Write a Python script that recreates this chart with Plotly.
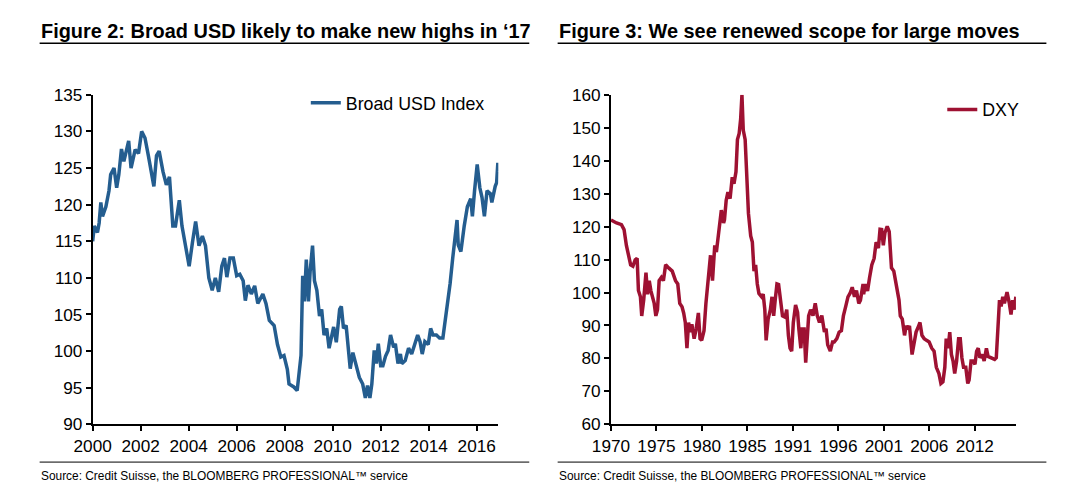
import plotly.graph_objects as go

W, H = 1068, 503

# ---------------- data ----------------
usd_years = [
    2000.00, 2000.07, 2000.20, 2000.27, 2000.34, 2000.41, 2000.55, 2000.68, 2000.75, 2000.89,
    2001.00, 2001.09, 2001.20, 2001.30, 2001.50, 2001.60, 2001.77, 2001.91, 2002.04, 2002.18,
    2002.32, 2002.45, 2002.55, 2002.66, 2002.77, 2002.93, 2003.07, 2003.20, 2003.34, 2003.45,
    2003.61, 2003.72, 2003.89, 2004.02, 2004.16, 2004.29, 2004.43, 2004.57, 2004.70, 2004.84,
    2004.98, 2005.11, 2005.25, 2005.38, 2005.49, 2005.59, 2005.72, 2005.86, 2006.00, 2006.13,
    2006.27, 2006.36, 2006.47, 2006.61, 2006.75, 2006.88, 2007.09, 2007.22, 2007.36, 2007.56,
    2007.70, 2007.84, 2007.97, 2008.11, 2008.18, 2008.38, 2008.52, 2008.59, 2008.68, 2008.75,
    2008.82, 2008.90, 2008.99, 2009.06, 2009.16, 2009.24, 2009.34, 2009.45, 2009.54, 2009.64,
    2009.75, 2009.85, 2009.95, 2010.04, 2010.15, 2010.29, 2010.36, 2010.45, 2010.56, 2010.63,
    2010.73, 2010.84, 2010.97, 2011.11, 2011.25, 2011.36, 2011.45, 2011.55, 2011.63, 2011.73,
    2011.82, 2011.90, 2012.00, 2012.09, 2012.20, 2012.31, 2012.41, 2012.54, 2012.61, 2012.72,
    2012.82, 2012.88, 2013.02, 2013.16, 2013.29, 2013.43, 2013.54, 2013.64, 2013.73, 2013.84,
    2013.98, 2014.08, 2014.18, 2014.32, 2014.45, 2014.59, 2014.68, 2014.79, 2014.89, 2015.00,
    2015.09, 2015.18, 2015.23, 2015.34, 2015.48, 2015.61, 2015.75, 2015.82, 2015.91, 2016.02,
    2016.13, 2016.22, 2016.32, 2016.43, 2016.57, 2016.63, 2016.77, 2016.83, 2016.88, 2016.92,
]
usd_values = [
    115.0, 117.1, 116.2, 117.5, 120.3, 118.4, 119.7, 121.9, 124.1, 125.0,
    122.3, 124.1, 127.6, 125.9, 128.7, 125.0, 127.5, 127.0, 130.0, 129.1,
    126.7, 124.5, 122.5, 126.7, 127.3, 124.5, 122.7, 123.8, 117.1, 117.1,
    120.6, 117.1, 113.8, 111.6, 114.9, 117.7, 114.4, 115.7, 114.4, 110.0,
    108.3, 110.0, 108.1, 111.6, 112.7, 110.1, 112.7, 112.7, 110.3, 110.5,
    109.6, 106.9, 109.0, 107.8, 108.9, 106.5, 107.8, 106.5, 104.2, 103.5,
    100.9, 99.2, 99.4, 97.5, 95.5, 95.1, 94.6, 96.4, 99.4, 110.3,
    106.8, 112.5, 106.8, 110.9, 114.4, 109.6, 108.3, 104.8, 105.7, 102.2,
    103.1, 100.4, 102.2, 103.3, 101.2, 105.7, 106.1, 103.1, 103.5, 101.3,
    97.6, 99.8, 98.0, 96.4, 95.5, 93.6, 95.3, 93.6, 95.5, 100.1,
    98.3, 101.0, 98.0, 98.0, 99.3, 100.1, 102.2, 100.5, 101.0, 98.3,
    99.6, 98.3, 98.7, 100.4, 99.6, 101.3, 102.2, 101.3, 99.6, 101.3,
    100.9, 103.1, 102.2, 102.2, 101.8, 101.8, 103.9, 106.3, 109.2, 112.7,
    115.3, 117.9, 114.5, 113.6, 117.1, 119.7, 120.8, 118.4, 121.9, 125.5,
    122.3, 121.0, 118.4, 121.9, 121.5, 120.3, 122.5, 123.0, 125.7, 124.5,
]

dxy_years = [
    1970.00, 1970.64, 1971.21, 1971.51, 1971.78, 1972.04, 1972.27, 1972.53, 1972.80, 1973.02,
    1973.17, 1973.40, 1973.55, 1973.78, 1974.04, 1974.23, 1974.42, 1974.61, 1974.99, 1975.18,
    1975.37, 1975.56, 1975.82, 1976.05, 1976.31, 1976.69, 1977.07, 1977.45, 1977.71, 1977.94,
    1978.20, 1978.39, 1978.58, 1978.77, 1978.96, 1979.15, 1979.34, 1979.60, 1979.83, 1980.09,
    1980.28, 1980.47, 1980.74, 1980.96, 1981.23, 1981.49, 1981.72, 1981.98, 1982.17, 1982.47,
    1982.74, 1983.00, 1983.10, 1983.30, 1983.50, 1983.75, 1984.00, 1984.20, 1984.43, 1984.60,
    1984.80, 1984.97, 1985.12, 1985.27, 1985.49, 1985.64, 1985.87, 1986.13, 1986.32, 1986.51,
    1986.70, 1986.89, 1987.08, 1987.38, 1987.57, 1987.76, 1987.91, 1988.14, 1988.40, 1988.59,
    1988.78, 1988.97, 1989.16, 1989.35, 1989.54, 1989.80, 1990.10, 1990.29, 1990.48, 1990.67,
    1990.86, 1991.05, 1991.31, 1991.54, 1991.69, 1991.92, 1992.07, 1992.30, 1992.48, 1992.67,
    1992.82, 1993.05, 1993.32, 1993.58, 1993.81, 1994.07, 1994.34, 1994.64, 1994.83, 1995.02,
    1995.32, 1995.58, 1995.77, 1996.07, 1996.34, 1996.60, 1996.83, 1997.10, 1997.36, 1997.59,
    1997.85, 1998.11, 1998.34, 1998.61, 1998.80, 1999.10, 1999.17, 1999.36, 1999.62, 1999.85,
    2000.11, 2000.38, 2000.61, 2000.87, 2001.06, 2001.25, 2001.44, 2001.63, 2001.89, 2002.12,
    2002.38, 2002.65, 2002.95, 2003.25, 2003.40, 2003.63, 2003.89, 2004.08, 2004.27, 2004.46,
    2004.76, 2005.03, 2005.22, 2005.52, 2005.67, 2005.90, 2006.16, 2006.43, 2006.73, 2007.03,
    2007.30, 2007.56, 2007.86, 2008.09, 2008.32, 2008.54, 2008.70, 2008.92, 2009.11, 2009.30,
    2009.49, 2009.68, 2009.90, 2010.13, 2010.32, 2010.51, 2010.70, 2010.96, 2011.19, 2011.34,
    2011.57, 2011.83, 2012.02, 2012.21, 2012.40, 2012.59, 2012.85, 2013.08, 2013.34, 2013.53,
    2013.91, 2014.29, 2014.48, 2014.67, 2014.85, 2015.04, 2015.23, 2015.42, 2015.72, 2015.99,
    2016.18, 2016.37, 2016.56, 2016.74,
]
dxy_values = [
    122.0, 121.1, 120.6, 119.1, 114.3, 111.3, 108.4, 108.0, 109.9, 110.4,
    100.6, 98.7, 92.9, 97.8, 106.0, 99.5, 103.6, 100.5, 96.7, 92.9,
    94.8, 103.6, 104.6, 103.6, 108.4, 107.4, 106.5, 103.6, 102.6, 96.7,
    95.7, 93.8, 90.9, 83.1, 90.9, 88.0, 90.4, 86.0, 88.9, 93.8,
    86.0, 85.5, 88.4, 96.7, 103.6, 111.3, 103.6, 114.3, 112.3, 119.1,
    125.0, 121.1, 122.0, 128.0, 130.5, 128.5, 135.0, 133.0, 136.6, 146.4,
    148.3, 152.7, 160.0, 149.3, 146.4, 137.6, 124.0, 117.2, 115.3, 106.5,
    108.4, 102.6, 99.7, 98.7, 99.5, 94.8, 85.5, 91.9, 94.8, 98.7,
    92.9, 98.0, 102.6, 102.4, 97.8, 92.9, 92.5, 94.8, 87.0, 83.1,
    82.2, 90.9, 96.2, 94.0, 88.9, 83.1, 88.9, 88.9, 78.7, 87.0,
    92.9, 94.8, 93.0, 96.7, 93.0, 90.9, 93.0, 88.0, 89.0, 84.1,
    82.2, 85.0, 85.0, 86.0, 88.0, 88.4, 92.9, 95.8, 98.7, 99.7,
    101.6, 98.7, 100.6, 96.7, 97.7, 102.6, 99.5, 102.6, 100.5, 104.5,
    108.4, 110.4, 115.3, 113.5, 119.2, 119.1, 114.3, 118.2, 120.1, 118.5,
    107.5, 106.5, 101.6, 97.7, 92.9, 91.9, 87.0, 89.9, 88.9, 89.9,
    81.2, 84.5, 88.0, 89.9, 90.9, 87.0, 86.0, 85.5, 85.0, 83.1,
    82.2, 77.3, 75.4, 72.4, 72.9, 77.3, 86.0, 83.1, 88.0, 81.2,
    79.2, 75.4, 79.2, 86.0, 86.0, 80.2, 77.3, 77.3, 72.4, 73.4,
    79.2, 79.2, 78.2, 82.2, 83.1, 80.2, 81.2, 79.2, 83.1, 80.6,
    80.2, 79.7, 80.2, 88.9, 97.7, 95.8, 98.7, 96.7, 100.1, 96.7,
    93.3, 97.7, 94.8, 98.7,
]

usd_tick_years = [2000, 2002, 2004, 2006, 2008, 2010, 2012, 2014, 2016]
dxy_tick_labels = ["1970", "1975", "1980", "1985", "1991", "1996", "2001", "2006", "2012"]

left_title = "Figure 2: Broad USD likely to make new highs in \u201817"
right_title = "Figure 3: We see renewed scope for large moves"
source_text = "Source: Credit Suisse, the BLOOMBERG PROFESSIONAL\u2122 service"

# ---------------- styling ----------------
FONT = "Arial, 'Liberation Sans', sans-serif"
BLUE = "#245D8F"
RED = "#9E1132"


def px_x(p):
    return p / W


def px_y(p):
    return 1 - p / H


# category axis of the DXY chart: a label every 63 months
dxy_tick_pos = [1970 + 5.25 * i for i in range(len(dxy_tick_labels))]

fig = go.Figure()
fig.add_trace(go.Scatter(x=usd_years, y=usd_values, mode="lines", name="Broad USD Index",
                         line=dict(color=BLUE, width=3.5), xaxis="x", yaxis="y", legend="legend"))
fig.add_trace(go.Scatter(x=dxy_years, y=dxy_values, mode="lines", name="DXY",
                         line=dict(color=RED, width=3.5), xaxis="x2", yaxis="y2", legend="legend2"))

axis_common = dict(showline=True, linecolor="black", linewidth=1.8, ticks="outside", ticklen=5,
                   tickwidth=1.5, tickcolor="black", showgrid=False, zeroline=False,
                   tickfont=dict(family=FONT, size=17.2, color="black"), fixedrange=True)

y_dom = [px_y(431.5), px_y(88.3)]

fig.update_layout(
    width=W, height=H, margin=dict(l=0, r=0, t=0, b=0),
    paper_bgcolor="white", plot_bgcolor="white",
    xaxis=dict(domain=[px_x(75), px_x(488)], range=[2000, 2016.9], tickvals=usd_tick_years,
               anchor="y", **axis_common),
    yaxis=dict(domain=y_dom, range=[90, 135], dtick=5, anchor="x", **axis_common),
    xaxis2=dict(domain=[px_x(602.7), px_x(1015)], range=[1970, 2016.75], tickvals=dxy_tick_pos,
                ticktext=dxy_tick_labels, anchor="y2", **axis_common),
    yaxis2=dict(domain=y_dom, range=[60, 160], dtick=10, anchor="x2", **axis_common),
    legend=dict(x=px_x(292), y=px_y(97), xanchor="left", yanchor="middle",
                font=dict(family=FONT, size=17.8, color="black"), bgcolor="rgba(0,0,0,0)"),
    legend2=dict(x=px_x(940), y=px_y(104), xanchor="left", yanchor="middle",
                 font=dict(family=FONT, size=17.8, color="black"), bgcolor="rgba(0,0,0,0)"),
    showlegend=True,
)

annotations = []
shapes = []
for x0, x1, title in [(21, 519.5, left_title), (548.4, 1046, right_title)]:
    annotations.append(dict(text="<b>" + title + "</b>", xref="paper", yref="paper",
                            x=px_x(x0 - 1), y=px_y(22), xanchor="left", yanchor="middle",
                            showarrow=False, font=dict(family=FONT, size=19.9, color="black")))
    annotations.append(dict(text=source_text, xref="paper", yref="paper",
                            x=px_x(x0 - 1), y=px_y(485.5), xanchor="left", yanchor="middle",
                            showarrow=False, font=dict(family=FONT, size=11.9, color="black")))
    shapes.append(dict(type="line", xref="paper", yref="paper", x0=px_x(x0), x1=px_x(x1),
                       y0=px_y(34.5), y1=px_y(34.5), line=dict(color="black", width=1.5)))
    shapes.append(dict(type="line", xref="paper", yref="paper", x0=px_x(x0), x1=px_x(x1),
                       y0=px_y(470.8), y1=px_y(470.8), line=dict(color="black", width=1)))

fig.update_layout(annotations=annotations, shapes=shapes)

fig.write_html("out.html", config={"displayModeBar": False})
